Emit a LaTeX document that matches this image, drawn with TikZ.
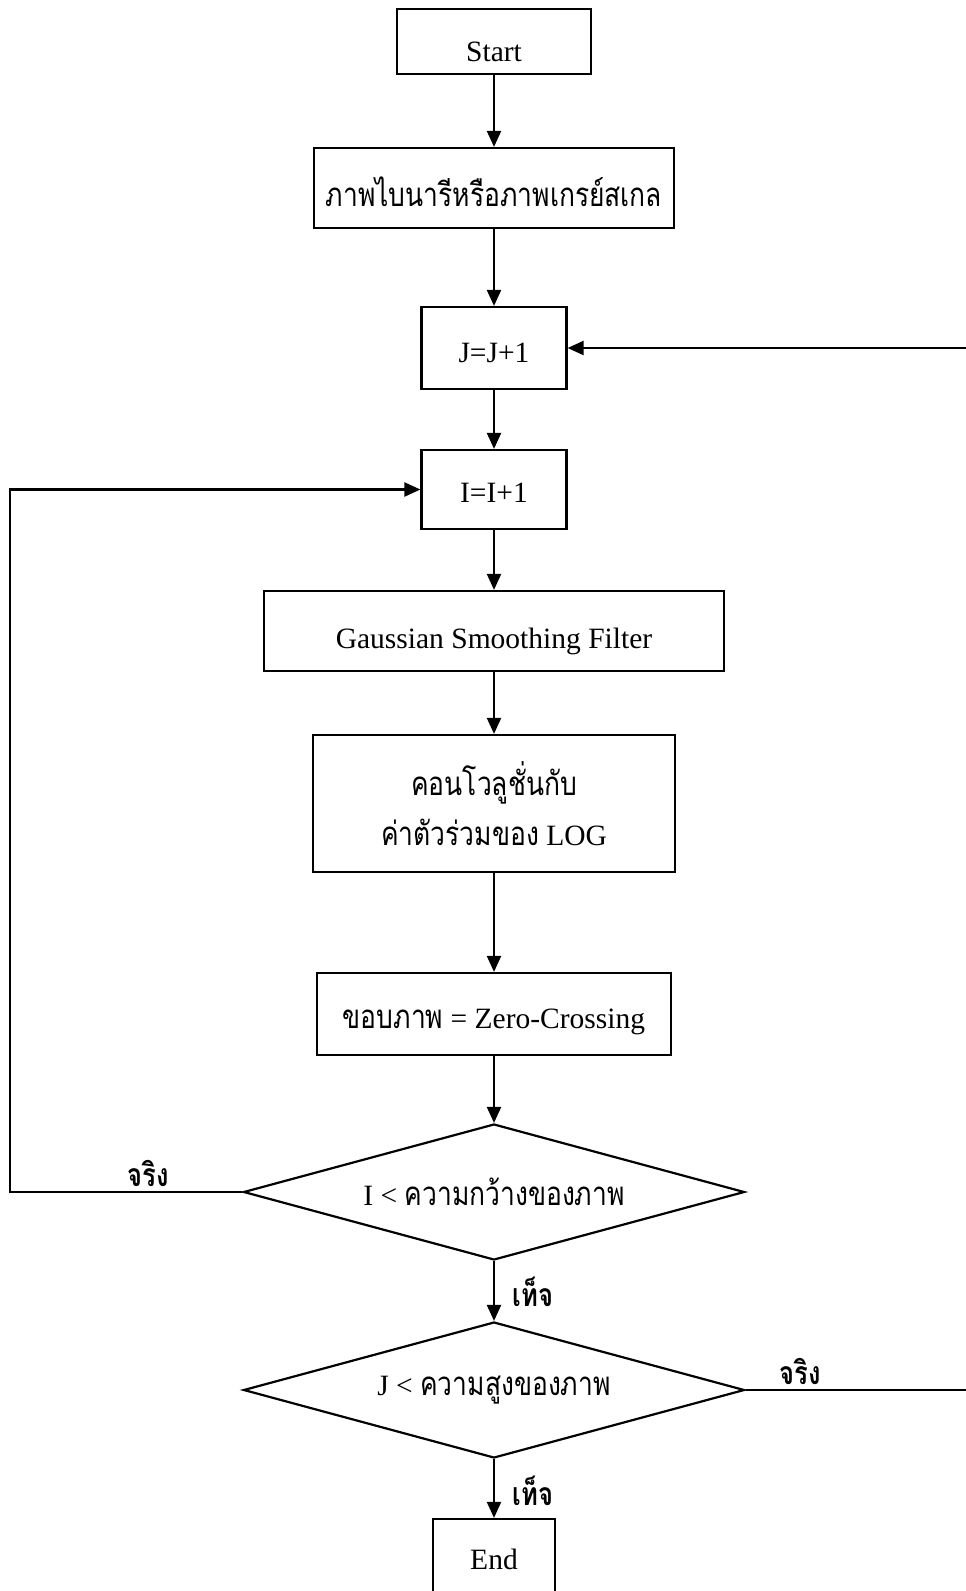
\documentclass[tikz,border=0pt]{standalone}
\usepackage{fontspec}
\setmainfont{Liberation Serif}
\newfontfamily\thaifont[Script=Thai,FakeStretch=0.8,Scale=1.12]{Loma}
\usetikzlibrary{shapes.geometric,arrows.meta}
\newcommand\thaitxt[1]{{\thaifont #1}}
\newcommand\lowtxt[2][6pt]{\raisebox{-#1}[\height][\depth]{#2}}
\begin{document}
\begin{tikzpicture}[x=1pt,y=-1pt,line width=2.2pt,
  box/.style={draw,rectangle,inner sep=0pt,align=center,font=\fontsize{29.5}{34}\selectfont},
  dec/.style={draw,diamond,inner sep=0pt,aspect=3.7,minimum width=501pt,minimum height=136pt,font=\fontsize{29.5}{34}\selectfont},
  arr/.style={-{Triangle[length=16pt,width=14pt]}},
  lbl/.style={inner sep=0pt,font=\fontsize{28.5}{34}\selectfont\bfseries\thaifont}]
\useasboundingbox (0,0) rectangle (966,1591);
\node[box,minimum width=194pt,minimum height=65pt] (start) at (494,41.5) {\lowtxt[10pt]{Start}};
\node[box,minimum width=360pt,minimum height=80pt] (gray) at (494,188) {\lowtxt[4pt]{\thaitxt{ภาพไบนารีหรือภาพเกรย์สเกล}}};
\node[box,minimum width=145pt,minimum height=82pt] (jbox) at (494,348) {\lowtxt[5pt]{J=J+1}};
\node[box,minimum width=145pt,minimum height=79pt] (ibox) at (494,489.5) {\lowtxt[3pt]{I=I+1}};
\node[box,minimum width=460pt,minimum height=80pt] (gauss) at (494,631) {\lowtxt[10pt]{Gaussian Smoothing Filter}};
\node[box,minimum width=362pt,minimum height=137pt,font=\fontsize{29.5}{50}\selectfont] (conv) at (494,803.5) {\thaitxt{คอนโวลูชั่นกับ}\\\thaitxt{ค่าตัวร่วมของ} LOG};
\node[box,minimum width=354pt,minimum height=82pt] (edge) at (494,1014) {\lowtxt[8pt]{\thaitxt{ขอบภาพ} = Zero-Crossing}};
\node[dec] (d1) at (494,1192) {I < \thaitxt{ความกว้างของภาพ}};
\node[dec] (d2) at (494,1390) {J < \thaitxt{ความสูงของภาพ}};
\node[box,minimum width=122pt,minimum height=80pt] (end) at (494,1559) {\lowtxt[0pt]{End}};
\coordinate (lc) at (10,0);
\coordinate (rc) at (972,0);
\draw[arr] (start) -- (gray);
\draw[arr] (gray) -- (jbox);
\draw[arr] (jbox) -- (ibox);
\draw[arr] (ibox) -- (gauss);
\draw[arr] (gauss) -- (conv);
\draw[arr] (conv) -- (edge);
\draw[arr] (edge) -- (d1);
\draw[arr] (d1) -- (d2);
\draw[arr] (d2) -- (end);
\draw[arr] (d1.west) -- (d1.west -| lc) -- (lc |- ibox.west) -- (ibox.west);
\draw[arr] (d2.east) -- (d2.east -| rc) -- (rc |- jbox.east) -- (jbox.east);
\node[lbl] (t1) at (148,1173) {จริง};
\node[lbl] (t2) at (800,1371) {จริง};
\node[lbl] (f1) at (533,1292) {เท็จ};
\node[lbl] (f2) at (533,1491) {เท็จ};
\end{tikzpicture}
\end{document}
